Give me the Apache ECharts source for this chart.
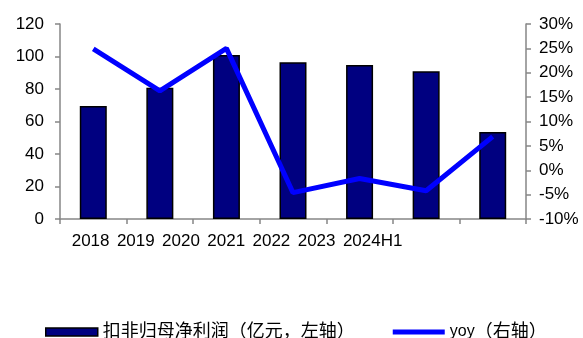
<!DOCTYPE html>
<html>
<head>
<meta charset="utf-8">
<script src="https://cdn.jsdelivr.net/npm/echarts@6/dist/echarts.min.js"></script>
<style>html,body{margin:0;padding:0;background:#fff;}#c{width:583px;height:338px;}</style>
</head>
<body>
<div id="c"></div>
<script>
const categories = ['2018', '2019', '2020', '2021', '2022', '2023', '2024H1'];
const profit = [69.5, 80.8, 100.9, 96.4, 94.8, 90.9, 53.5];
const yoy = [24.9, 16.3, 25.0, -4.6, -1.7, -4.2, 6.9];
const leftTicks = { min: 0, max: 120, interval: 20 };
const rightTicks = { min: -10, max: 30, interval: 5 };
const seriesNames = ['扣非归母净利润（亿元，左轴）', 'yoy（右轴）'];

const FONT = '"Liberation Sans", Arial, "Noto Sans CJK SC", sans-serif';
const axisGray = '#868686';
const chart = echarts.init(document.getElementById('c'), null, { renderer: 'canvas' });
chart.setOption({
  animation: false,
  textStyle: { fontFamily: FONT },
  grid: [
    { left: 60, right: 57, top: 24, bottom: 119, containLabel: false },
    { left: 71.7, width: 271.2, top: 24, bottom: 119, containLabel: false }
  ],
  xAxis: [
    {
      type: 'category', gridIndex: 0, data: categories,
      axisLine: { lineStyle: { color: axisGray, width: 1.5 } },
      axisTick: { show: true, length: 5, lineStyle: { color: axisGray, width: 1.5 } },
      axisLabel: { show: false }
    },
    {
      type: 'category', gridIndex: 1, data: categories, boundaryGap: false,
      axisLine: { show: false }, axisTick: { show: false },
      axisLabel: { show: true, align: 'left', margin: 14, fontSize: 17, color: '#000', fontFamily: FONT, interval: 0 }
    }
  ],
  yAxis: [
    {
      type: 'value', gridIndex: 0, min: leftTicks.min, max: leftTicks.max, interval: leftTicks.interval,
      splitLine: { show: false },
      axisLine: { show: true, lineStyle: { color: axisGray, width: 1.5 } },
      axisTick: { show: true, length: 5, lineStyle: { color: axisGray, width: 1.5 } },
      axisLabel: { fontSize: 17, color: '#000', margin: 16, fontFamily: FONT }
    },
    {
      type: 'value', gridIndex: 0, position: 'right', min: rightTicks.min, max: rightTicks.max, interval: rightTicks.interval,
      splitLine: { show: false },
      axisLine: { show: true, lineStyle: { color: axisGray, width: 1.5 } },
      axisTick: { show: true, length: 5, lineStyle: { color: axisGray, width: 1.5 } },
      axisLabel: { fontSize: 17, color: '#000', margin: 13, formatter: '{value}%', fontFamily: FONT }
    },
    { type: 'value', gridIndex: 1, show: false }
  ],
  legend: {
    left: 40, top: 318, itemGap: 38, itemWidth: 52, itemHeight: 8,
    textStyle: { fontSize: 18, color: '#000', fontFamily: FONT,
      rich: { s: { fontSize: 16, fontFamily: FONT, color: '#000' }, c: { fontSize: 18, fontFamily: FONT, color: '#000' } } },
    formatter: function (name) {
      if (name.indexOf('yoy') === 0) return '{s|yoy}{c|' + name.slice(3) + '}';
      return name;
    },
    data: [
      { name: seriesNames[0], icon: 'rect', itemStyle: { color: '#000080', borderColor: '#000', borderWidth: 1.5 } },
      { name: seriesNames[1], icon: 'path://M0,0 L50,0 L50,5 L0,5 Z', itemStyle: { color: '#0000FF', borderWidth: 0 } }
    ]
  },
  series: [
    {
      name: seriesNames[0], type: 'bar', xAxisIndex: 0, yAxisIndex: 0, data: profit,
      barWidth: 27,
      itemStyle: { color: '#000080', borderColor: '#000', borderWidth: 1.5 }
    },
    {
      name: seriesNames[1], type: 'line', xAxisIndex: 0, yAxisIndex: 1, data: yoy,
      showSymbol: false, symbol: 'none',
      lineStyle: { color: '#0000FF', width: 5 }, itemStyle: { color: '#0000FF' }
    }
  ]
});
</script>
</body>
</html>
